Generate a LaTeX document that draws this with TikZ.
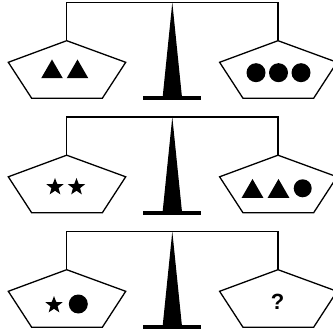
\documentclass[tikz,border=0pt]{standalone}
\usepackage{fontspec}
\setmainfont{Liberation Sans}
\usetikzlibrary{shapes.geometric}
\tikzset{
  beam/.style={draw,line width=1.2pt},
  pan/.style={draw,line width=1.3pt,line join=miter,fill=white},
  tri/.style={regular polygon,regular polygon sides=3,fill=black,inner sep=0pt,minimum size=25pt},
  ball/.style={circle,fill=black,inner sep=0pt,minimum size=19pt},
  starry/.style={star,star points=5,star point ratio=2.4,fill=black,inner sep=0pt,minimum size=18pt},
}

\begin{document}
\begin{tikzpicture}[x=1pt,y=-1pt]
\useasboundingbox (0,0) rectangle (332,336);
\foreach \r/\d in {1/0,2/114.5,3/229}{
  \coordinate (top\r) at (172.3,2.5+\d);
  \coordinate (lp\r) at (66.7,40.7+\d);
  \coordinate (rp\r) at (278,40.7+\d);
  \draw[beam] (lp\r) |- (top\r) -| (rp\r);
  \draw[pan] (lp\r) -- ++(-58.4,21.6) -- ++(23.4,36) -- ++(70.6,0) -- ++(23.4,-36) -- cycle;
  \draw[pan] (rp\r) -- ++(-58.4,21.6) -- ++(23.4,36) -- ++(70.6,0) -- ++(23.4,-36) -- cycle;
  \fill (top\r) -- ++(9.6,94) -- ++(-19.2,0) -- cycle;
  \draw[line width=4pt] (143.3,98+\d) -- (200.7,98+\d);
}
% first scale
\node[tri] (t1a) at (52,72) {};
\node[tri] (t1b) at (77.5,72) {};
\node[ball] (b1a) at (256,72.7) {};
\node[ball] (b1b) at (278.5,72.7) {};
\node[ball] (b1c) at (301,72.7) {};
% second scale
\node[starry] (s2a) at (55,187) {};
\node[starry] (s2b) at (76.5,187) {};
\node[tri] (t2a) at (252.5,191.5) {};
\node[tri] (t2b) at (278.5,191.5) {};
\node[ball,minimum size=18pt] (b2a) at (302.7,188.3) {};
% third scale
\node[starry] (s3a) at (54,305) {};
\node[ball] (b3a) at (78.3,304) {};
\node[anchor=base,font=\fontsize{22}{22}\selectfont\bfseries] (q3) at (277.5,309.5) {?};
\end{tikzpicture}
\end{document}
